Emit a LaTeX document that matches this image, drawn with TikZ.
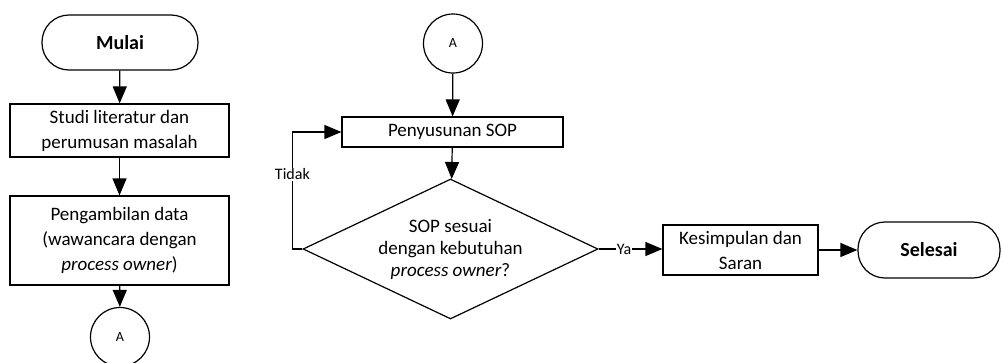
\documentclass[tikz,border=0pt]{standalone}
\usepackage{fontspec}
\setmainfont{Carlito}
\usetikzlibrary{arrows.meta,shapes.geometric}
\tikzset{
  garis/.style={line width=1.2pt},
  terminal/.style={garis, draw, rounded corners=27pt, minimum width=156pt, minimum height=55pt, font=\fontsize{20}{22}\selectfont\bfseries},
  proses/.style={garis, draw, align=center, inner sep=0pt, font=\fontsize{19}{25}\selectfont},
  keputusan/.style={garis, draw, diamond, aspect=2.1, align=center, inner sep=0pt, minimum width=295pt, minimum height=140pt, font=\fontsize{19}{22}\selectfont},
  konektor/.style={garis, draw, circle, minimum size=59pt, inner sep=0pt, font=\fontsize{14}{16}\selectfont},
  panah/.style={garis, -{Triangle[length=17pt,width=14pt]}},
  ket/.style={fill=white, inner sep=1pt, font=\fontsize{16}{18}\selectfont}
}
\begin{document}
\begin{tikzpicture}[x=1pt,y=-1pt]
    \useasboundingbox (0,0) rectangle (1003,362);
    % kolom kiri
    \node[terminal] (mulai) at (120,42.5) {Mulai};
    \node[proses, minimum width=219pt, minimum height=53pt] (studi) at (119.5,130.5) {Studi literatur dan\\perumusan masalah};
    \node[proses, minimum width=219pt, minimum height=89pt] (ambil) at (119.5,240.5) {Pengambilan data\\(wawancara dengan\\\textit{process owner})};
    \node[konektor] (a1) at (120,337) {A};
    \draw[panah] (mulai) -- (studi);
    \draw[panah] (studi) -- (ambil);
    \draw[panah] (ambil) -- (a1);
    % kolom kanan
    \node[konektor] (a2) at (453,43.5) {A};
    \node[proses, minimum width=221pt, minimum height=30pt] (susun) at (452.5,132) {Penyusunan SOP};
    \node[keputusan] (cek) at (450.5,249) {SOP sesuai\\dengan kebutuhan\\\textit{process owner}?};
    \node[proses, minimum width=155pt, minimum height=50pt] (simpul) at (740.5,250) {Kesimpulan dan\\Saran};
    \node[terminal, minimum width=142pt, minimum height=56pt] (selesai) at (929,250) {Selesai};
    \draw[panah] (a2) -- (susun);
    \draw[panah] (susun) -- (cek);
    \draw[panah] (cek.west) -- ++(-10,0) |- node[ket, pos=0.32] {Tidak} (susun.west);
    \draw[panah] (cek.east) -- node[ket, pos=0.4] {Ya} (simpul.west |- cek.east);
    \draw[panah] (simpul) -- (selesai);
\end{tikzpicture}
\end{document}
